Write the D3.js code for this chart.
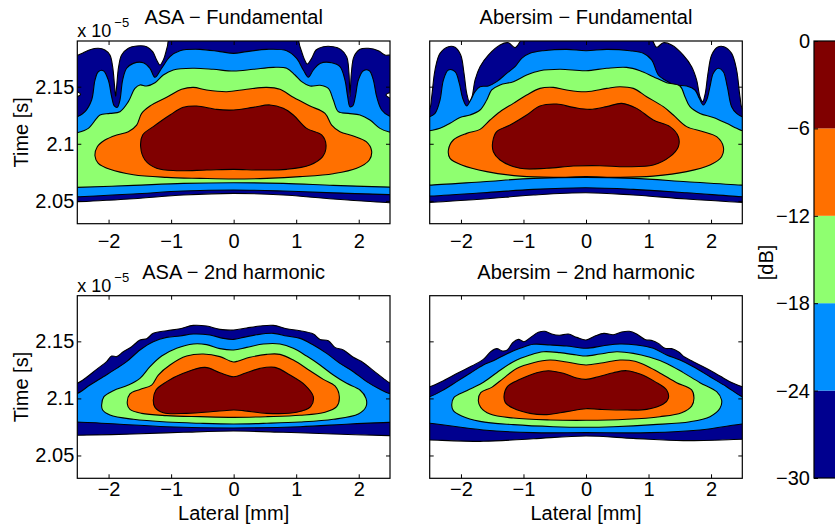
<!DOCTYPE html>
<html><head><meta charset="utf-8">
<script src="https://cdn.jsdelivr.net/npm/d3@7"></script>
<style>body{margin:0;background:#fff}svg{display:block}</style>
</head><body>
<svg id="chart" width="835" height="527"></svg>
<script>
// ---------------- data ----------------
const lateralTicks = [-2, -1, 0, 1, 2];
const timeTicks = [2.05, 2.1, 2.15];
const timeTickLabels = ["2.05", "2.1", "2.15"];
const lateralDomain = [-2.5, 2.5];
const timeDomain = [2.03, 2.19];           // x 10^-5 s
const levels = [-30, -24, -18, -12, -6, 0]; // dB
const levelColors = ["#00008f", "#008fff", "#8fff70", "#ff7000", "#800000"];
const panelTitles = ["ASA \u2212 Fundamental", "Abersim \u2212 Fundamental", "ASA \u2212 2nd harmonic", "Abersim \u2212 2nd harmonic"];

// contour regions [lateral mm, time x1e-5 s], one per level (>= -30, -24, -18, -12, -6 dB)
const asaFund30 = [[-2.564,2.1769],[-2.5,2.1774],[-2.404,2.1798],[-2.297,2.1824],[-2.164,2.1836],[-2.058,2.1821],[-1.978,2.1777],[-1.935,2.1675],[-1.903,2.15],[-1.887,2.1412],[-1.871,2.15],[-1.839,2.1675],[-1.791,2.1777],[-1.684,2.1836],[-1.551,2.1856],[-1.391,2.185],[-1.295,2.1807],[-1.231,2.1734],[-1.178,2.169],[-1.114,2.1748],[-1.061,2.185],[-1.018,2.1923],[0,2.1967],[1.007,2.1923],[1.061,2.185],[1.125,2.1748],[1.178,2.1699],[1.247,2.1748],[1.317,2.1821],[1.434,2.185],[1.594,2.185],[1.711,2.1827],[1.807,2.1763],[1.844,2.1617],[1.86,2.1412],[1.882,2.1617],[1.924,2.1763],[2.02,2.1827],[2.154,2.1836],[2.314,2.1815],[2.42,2.1777],[2.553,2.1769],[2.553,2.1471],[2.436,2.1427],[2.553,2.1369],[2.553,2.0484],[2.489,2.0484],[1.594,2.0516],[0.794,2.0551],[0,2.0566],[-0.805,2.0551],[-1.604,2.0519],[-2.5,2.0493],[-2.564,2.0493],[-2.564,2.1383],[-2.447,2.1433],[-2.564,2.1485]];
const asaFund24 = [[-2.564,2.1237],[-2.5,2.1237],[-2.377,2.1281],[-2.271,2.1383],[-2.217,2.1558],[-2.164,2.1631],[-2.084,2.164],[-2.004,2.1558],[-1.951,2.1412],[-1.908,2.1331],[-1.86,2.1319],[-1.818,2.1383],[-1.775,2.1558],[-1.711,2.1661],[-1.604,2.1704],[-1.445,2.171],[-1.338,2.1661],[-1.258,2.1582],[-1.151,2.1661],[-1.018,2.1763],[-0.858,2.1815],[-0.538,2.1827],[-0.219,2.1807],[0,2.1792],[0.208,2.1807],[0.528,2.1827],[0.848,2.1815],[1.007,2.1748],[1.114,2.1646],[1.194,2.1582],[1.274,2.1646],[1.381,2.1704],[1.567,2.171],[1.7,2.1675],[1.78,2.1558],[1.823,2.1412],[1.86,2.1325],[1.903,2.1331],[1.946,2.1412],[1.994,2.1558],[2.074,2.164],[2.17,2.164],[2.234,2.1558],[2.287,2.1412],[2.367,2.1296],[2.489,2.1243],[2.553,2.1237],[2.553,2.0555],[2.489,2.0555],[1.594,2.057],[0.794,2.0586],[0,2.0595],[-0.805,2.0586],[-1.604,2.056],[-2.5,2.0536],[-2.564,2.0536]];
const asaFund18 = [[-2.564,2.1091],[-2.5,2.1097],[-2.324,2.1135],[-2.191,2.1223],[-2.137,2.1252],[-1.978,2.1266],[-1.818,2.1281],[-1.684,2.1369],[-1.578,2.1485],[-1.498,2.1515],[-1.391,2.1506],[-1.258,2.1535],[-1.125,2.1602],[-0.965,2.1646],[-0.645,2.1661],[-0.325,2.1652],[0,2.1637],[0.314,2.1652],[0.634,2.1669],[0.848,2.1661],[0.981,2.1602],[1.087,2.1544],[1.221,2.1506],[1.381,2.1512],[1.514,2.1485],[1.594,2.1383],[1.674,2.1281],[1.834,2.1266],[2.02,2.1252],[2.18,2.1208],[2.34,2.1135],[2.489,2.1103],[2.553,2.1097],[2.553,2.062],[2.489,2.062],[1.594,2.0636],[0.794,2.0653],[0,2.0659],[-0.805,2.0653],[-1.604,2.0636],[-2.5,2.0618],[-2.564,2.0618]];
const asaFund12 = [[-2.217,2.0893],[-2.18,2.0974],[-2.058,2.1033],[-1.871,2.1077],[-1.684,2.1106],[-1.551,2.1164],[-1.471,2.1266],[-1.338,2.1331],[-1.071,2.1407],[-0.832,2.1477],[-0.645,2.1494],[-0.432,2.1471],[-0.112,2.1456],[0.208,2.1477],[0.528,2.1494],[0.741,2.1477],[0.954,2.1407],[1.221,2.1331],[1.461,2.1266],[1.567,2.1164],[1.7,2.1106],[1.914,2.1068],[2.12,2.1018],[2.205,2.094],[2.17,2.0858],[1.967,2.0785],[1.594,2.0738],[1.061,2.0712],[0.528,2.0697],[0,2.0691],[-0.538,2.0697],[-1.071,2.0706],[-1.604,2.0729],[-1.978,2.0776],[-2.164,2.0828]];
const asaFund6 = [[-1.487,2.0974],[-1.455,2.1077],[-1.285,2.115],[-1.018,2.1252],[-0.805,2.1319],[-0.592,2.1331],[-0.272,2.1301],[0,2.1296],[0.314,2.1319],[0.581,2.134],[0.794,2.131],[0.954,2.1252],[1.167,2.1135],[1.407,2.1077],[1.477,2.0989],[1.423,2.0887],[1.221,2.0814],[0.848,2.0776],[0.421,2.077],[0,2.0776],[-0.432,2.077],[-0.912,2.0764],[-1.231,2.0785],[-1.418,2.0858]];

const aberFund30 = [[-2.564,2.1296],[-2.5,2.131],[-2.468,2.1412],[-2.415,2.1646],[-2.335,2.1792],[-2.201,2.185],[-2.095,2.1845],[-2.004,2.1777],[-1.951,2.1617],[-1.908,2.1442],[-1.866,2.1369],[-1.823,2.1412],[-1.775,2.1558],[-1.695,2.1675],[-1.562,2.1777],[-1.375,2.1865],[-1.242,2.1885],[-1.135,2.1842],[-1.045,2.1903],[-1.002,2.1938],[0,2.1967],[1.023,2.1938],[1.066,2.1903],[1.13,2.1845],[1.237,2.1885],[1.37,2.1865],[1.556,2.1777],[1.69,2.1675],[1.77,2.1558],[1.823,2.1412],[1.866,2.1369],[1.908,2.1442],[1.951,2.1617],[2.01,2.1777],[2.1,2.1845],[2.207,2.185],[2.329,2.1792],[2.409,2.1646],[2.463,2.1412],[2.5,2.131],[2.569,2.1296],[2.569,2.0487],[2.5,2.0487],[1.61,2.0516],[0.757,2.0551],[0,2.0571],[-0.842,2.0551],[-1.642,2.0516],[-2.5,2.0487],[-2.564,2.0487]];
const aberFund24 = [[-2.564,2.1231],[-2.5,2.1237],[-2.415,2.1266],[-2.335,2.1383],[-2.281,2.1558],[-2.201,2.1646],[-2.095,2.1631],[-2.026,2.1529],[-1.972,2.1398],[-1.908,2.1331],[-1.844,2.1383],[-1.775,2.1456],[-1.695,2.15],[-1.562,2.1506],[-1.428,2.1544],[-1.269,2.1617],[-1.135,2.1675],[-1.029,2.1748],[-0.896,2.1792],[-0.682,2.1815],[-0.309,2.1827],[0,2.1815],[0.33,2.1827],[0.704,2.1815],[0.917,2.1792],[1.05,2.1734],[1.157,2.1602],[1.263,2.1558],[1.423,2.1515],[1.61,2.1506],[1.743,2.1471],[1.812,2.1398],[1.876,2.1339],[1.93,2.1383],[1.983,2.15],[2.036,2.1617],[2.116,2.1661],[2.196,2.1631],[2.26,2.15],[2.329,2.1325],[2.409,2.1266],[2.5,2.1237],[2.569,2.1234],[2.569,2.0536],[2.5,2.0536],[1.61,2.0571],[0.757,2.0601],[0,2.0615],[-0.842,2.0601],[-1.642,2.0571],[-2.5,2.0542],[-2.564,2.0542]];
const aberFund18 = [[-2.564,2.1106],[-2.5,2.1114],[-2.335,2.1135],[-2.175,2.1179],[-2.015,2.1231],[-1.855,2.1252],[-1.695,2.1296],[-1.588,2.1383],[-1.508,2.1471],[-1.375,2.1515],[-1.162,2.1544],[-0.949,2.1602],[-0.736,2.164],[-0.416,2.1652],[0,2.164],[0.33,2.1661],[0.65,2.1669],[0.864,2.164],[1.077,2.1588],[1.29,2.1535],[1.503,2.1506],[1.583,2.1412],[1.663,2.1325],[1.823,2.1266],[2.036,2.1231],[2.249,2.1179],[2.409,2.1135],[2.5,2.1114],[2.569,2.1111],[2.569,2.0638],[2.5,2.0638],[1.61,2.0668],[0.757,2.0697],[0,2.0706],[-0.842,2.0697],[-1.642,2.0668],[-2.5,2.0638],[-2.564,2.0638]];
const aberFund12 = [[-2.201,2.0945],[-2.122,2.1033],[-1.908,2.1091],[-1.695,2.1126],[-1.535,2.1208],[-1.375,2.1281],[-1.162,2.1354],[-0.949,2.1427],[-0.736,2.1485],[-0.522,2.1494],[-0.309,2.1471],[0,2.1456],[0.33,2.1485],[0.544,2.15],[0.757,2.1485],[0.97,2.1412],[1.237,2.1325],[1.397,2.1252],[1.61,2.115],[1.876,2.1106],[2.09,2.1062],[2.196,2.0974],[2.169,2.0887],[1.983,2.0814],[1.61,2.0756],[1.077,2.0717],[0.544,2.0706],[0,2.0712],[-0.522,2.0706],[-1.055,2.0717],[-1.588,2.0756],[-1.988,2.0814],[-2.175,2.0872]];
const aberFund6 = [[-1.492,2.1018],[-1.428,2.1106],[-1.215,2.1164],[-0.949,2.1252],[-0.736,2.1331],[-0.469,2.1348],[-0.203,2.1319],[0.064,2.1301],[0.33,2.1325],[0.57,2.1354],[0.81,2.131],[1.077,2.1208],[1.343,2.115],[1.477,2.1062],[1.477,2.0974],[1.343,2.0887],[1.077,2.0814],[0.65,2.0799],[0.224,2.0808],[-0.203,2.0805],[-0.629,2.0785],[-1.055,2.0785],[-1.375,2.0858],[-1.482,2.093]];

const asaHarm30 = [[-2.564,2.1126],[-2.5,2.1132],[-2.351,2.1185],[-2.191,2.1255],[-2.031,2.1322],[-1.951,2.1371],[-1.871,2.1366],[-1.764,2.1409],[-1.631,2.1453],[-1.498,2.1512],[-1.391,2.1523],[-1.285,2.157],[-1.071,2.1593],[-0.858,2.1611],[-0.645,2.164],[-0.432,2.1634],[-0.219,2.1605],[0,2.1599],[0.208,2.1617],[0.421,2.1634],[0.634,2.164],[0.848,2.1611],[1.061,2.1593],[1.274,2.1564],[1.381,2.1517],[1.514,2.1506],[1.62,2.1447],[1.754,2.1424],[1.914,2.136],[2.074,2.1313],[2.234,2.1243],[2.393,2.1176],[2.489,2.1138],[2.553,2.1132],[2.553,2.0674],[2.489,2.0674],[1.594,2.0688],[0.794,2.0703],[0,2.0714],[-0.805,2.0703],[-1.604,2.0688],[-2.5,2.0677],[-2.564,2.0677]];
const asaHarm24 = [[-2.564,2.1041],[-2.5,2.1044],[-2.297,2.1117],[-2.084,2.119],[-1.871,2.1263],[-1.711,2.1322],[-1.498,2.1424],[-1.285,2.1497],[-1.071,2.1535],[-0.858,2.1547],[-0.645,2.1564],[-0.378,2.1555],[-0.165,2.1526],[0,2.1517],[0.155,2.1535],[0.368,2.1558],[0.634,2.157],[0.848,2.1547],[1.061,2.1526],[1.274,2.1468],[1.487,2.1395],[1.7,2.1307],[1.914,2.1234],[2.127,2.1147],[2.34,2.108],[2.489,2.1044],[2.553,2.1041],[2.553,2.079],[2.489,2.079],[1.86,2.0776],[1.061,2.0752],[0,2.0741],[-1.071,2.0752],[-1.871,2.0776],[-2.5,2.0793],[-2.564,2.0793]];
const asaHarm18 = [[-2.111,2.0942],[-2.074,2.1015],[-1.924,2.1068],[-1.684,2.1117],[-1.498,2.1176],[-1.338,2.1278],[-1.151,2.1371],[-0.912,2.1439],[-0.645,2.1477],[-0.432,2.1471],[-0.219,2.1436],[0,2.1424],[0.208,2.1447],[0.474,2.1477],[0.741,2.1477],[0.954,2.1439],[1.167,2.1371],[1.381,2.1293],[1.594,2.1205],[1.807,2.1132],[2.02,2.1074],[2.116,2.1001],[2.116,2.0928],[1.994,2.0863],[1.594,2.0817],[1.061,2.0793],[0.528,2.0782],[0,2.0776],[-0.538,2.0782],[-1.071,2.0793],[-1.604,2.0817],[-1.978,2.0855],[-2.095,2.0898]];
const asaHarm12 = [[-1.7,2.0951],[-1.658,2.1039],[-1.498,2.1079],[-1.311,2.1117],[-1.205,2.1205],[-1.018,2.1293],[-0.752,2.1371],[-0.485,2.1389],[-0.219,2.1366],[-0.059,2.1328],[0,2.1319],[0.075,2.1328],[0.261,2.136],[0.528,2.1386],[0.741,2.1386],[0.954,2.1336],[1.221,2.1243],[1.434,2.1167],[1.62,2.1109],[1.69,2.1015],[1.647,2.0928],[1.461,2.0879],[1.061,2.0852],[0.528,2.084],[0,2.0834],[-0.538,2.084],[-1.071,2.0849],[-1.471,2.0869],[-1.658,2.0904]];
const asaHarm6 = [[-1.285,2.0986],[-1.242,2.1074],[-1.071,2.1147],[-0.805,2.122],[-0.458,2.1272],[-0.219,2.1225],[0,2.119],[0.181,2.122],[0.421,2.1263],[0.661,2.1272],[0.901,2.1205],[1.141,2.1117],[1.274,2.1015],[1.231,2.0928],[1.007,2.0878],[0.528,2.0869],[0.155,2.0893],[0,2.0898],[-0.272,2.0887],[-0.752,2.0869],[-1.125,2.0875],[-1.258,2.0922]];

const aberHarm30 = [[-2.564,2.1097],[-2.5,2.1103],[-2.281,2.1155],[-2.042,2.1225],[-1.828,2.1284],[-1.642,2.1342],[-1.525,2.1409],[-1.428,2.1436],[-1.333,2.1415],[-1.258,2.1424],[-1.173,2.1488],[-1.082,2.1517],[-0.991,2.1497],[-0.885,2.1535],[-0.762,2.1579],[-0.656,2.1588],[-0.549,2.1564],[-0.426,2.1553],[-0.283,2.1564],[-0.149,2.1535],[0,2.1512],[0.144,2.1547],[0.288,2.157],[0.437,2.1558],[0.57,2.1582],[0.693,2.1588],[0.81,2.1564],[0.944,2.1517],[1.066,2.1506],[1.157,2.1482],[1.263,2.1439],[1.37,2.1436],[1.477,2.1409],[1.583,2.136],[1.716,2.1322],[1.93,2.1263],[2.143,2.1196],[2.356,2.1132],[2.5,2.1103],[2.569,2.1097],[2.569,2.0642],[2.5,2.0642],[1.556,2.063],[0.757,2.065],[0,2.0671],[-0.842,2.0647],[-1.642,2.0624],[-2.5,2.0636],[-2.564,2.0636]];
const aberHarm24 = [[-2.564,2.1012],[-2.5,2.1015],[-2.281,2.1074],[-2.068,2.1147],[-1.855,2.122],[-1.642,2.1293],[-1.482,2.1331],[-1.269,2.139],[-1.055,2.1439],[-0.842,2.1474],[-0.576,2.1468],[-0.309,2.1459],[0,2.1439],[0.277,2.1462],[0.544,2.1477],[0.81,2.1468],[1.077,2.1439],[1.29,2.138],[1.503,2.1336],[1.716,2.1278],[1.983,2.119],[2.249,2.1103],[2.5,2.1015],[2.569,2.1012],[2.569,2.0776],[2.5,2.0776],[1.823,2.0723],[1.023,2.07],[0,2.07],[-0.842,2.07],[-1.642,2.0723],[-2.5,2.0782],[-2.564,2.0782]];
const aberHarm18 = [[-2.148,2.0942],[-2.111,2.1009],[-1.908,2.1068],[-1.668,2.1132],[-1.428,2.1225],[-1.162,2.1322],[-0.896,2.138],[-0.682,2.1409],[-0.416,2.1401],[-0.149,2.138],[0,2.1371],[0.224,2.1389],[0.49,2.1409],[0.757,2.1395],[1.023,2.136],[1.29,2.1307],[1.556,2.1226],[1.823,2.1138],[2.09,2.1059],[2.169,2.0986],[2.143,2.0913],[1.983,2.084],[1.663,2.0796],[1.077,2.077],[0.437,2.0752],[0,2.0747],[-0.522,2.0752],[-1.162,2.077],[-1.695,2.0799],[-1.988,2.0846],[-2.122,2.0893]];
const aberHarm12 = [[-1.722,2.098],[-1.684,2.105],[-1.508,2.1097],[-1.322,2.1176],[-1.109,2.1263],[-0.842,2.1313],[-0.576,2.1336],[-0.309,2.1319],[0,2.1293],[0.277,2.1313],[0.544,2.1336],[0.784,2.1325],[0.997,2.1278],[1.21,2.1214],[1.45,2.1138],[1.69,2.1074],[1.727,2.1001],[1.69,2.0933],[1.53,2.0875],[1.183,2.084],[0.65,2.0817],[0,2.0808],[-0.576,2.0811],[-1.162,2.0828],[-1.535,2.0863],[-1.684,2.0922]];
const aberHarm6 = [[-1.311,2.1021],[-1.258,2.1103],[-1.055,2.1167],[-0.789,2.1225],[-0.602,2.1243],[-0.362,2.122],[-0.149,2.1179],[0,2.1167],[0.197,2.119],[0.437,2.1225],[0.65,2.1243],[0.864,2.1214],[1.103,2.1147],[1.29,2.1074],[1.317,2.1001],[1.237,2.0951],[0.97,2.0904],[0.65,2.0898],[0.224,2.0904],[0,2.091],[-0.309,2.0884],[-0.629,2.0858],[-0.896,2.0869],[-1.162,2.0913],[-1.29,2.0963]];

const panelRings = [
  [asaFund30, asaFund24, asaFund18, asaFund12, asaFund6],
  [aberFund30, aberFund24, aberFund18, aberFund12, aberFund6],
  [asaHarm30, asaHarm24, asaHarm18, asaHarm12, asaHarm6],
  [aberHarm30, aberHarm24, aberHarm18, aberHarm12, aberHarm6]
];

// ---------------- layout ----------------
const FONT = "'Liberation Sans', Arial, Helvetica, sans-serif";
const layout = [
  {x0: 77.3, x1: 390, y0: 41, y1: 223.7, yLabels: true, xTitle: false},
  {x0: 429.7, x1: 742.3, y0: 41, y1: 223.7, yLabels: false, xTitle: false},
  {x0: 77.3, x1: 390, y0: 295.7, y1: 478.3, yLabels: true, xTitle: true},
  {x0: 429.7, x1: 742.3, y0: 295.7, y1: 478.3, yLabels: false, xTitle: true}
];
const fmtX = d => d < 0 ? "\u2212" + Math.abs(d) : String(d);
const fmtC = d => d < 0 ? "\u2212" + Math.abs(d) : String(d);

const svg = d3.select("#chart");
svg.append("rect").attr("width", 835).attr("height", 527).attr("fill", "#fff");

layout.forEach((p, i) => {
  const x = d3.scaleLinear().domain(lateralDomain).range([p.x0, p.x1]);
  const y = d3.scaleLinear().domain(timeDomain).range([p.y1, p.y0]);
  const cid = "clip" + i;
  svg.append("clipPath").attr("id", cid).append("rect")
    .attr("x", p.x0).attr("y", p.y0).attr("width", p.x1 - p.x0).attr("height", p.y1 - p.y0);
  const g = svg.append("g").attr("clip-path", `url(#${cid})`);
  const line = d3.line().x(d => x(d[0])).y(d => y(d[1])).curve(d3.curveCatmullRomClosed.alpha(0.5));
  panelRings[i].forEach((ring, k) => {
    g.append("path").attr("d", line(ring))
      .attr("fill", levelColors[k]).attr("stroke", "#000").attr("stroke-width", 1.1)
      .attr("stroke-linejoin", "round");
  });

  const styleAxis = sel => {
    sel.select(".domain").remove();
    sel.selectAll("line").attr("stroke", "#000").attr("stroke-width", 1);
    sel.selectAll("text").attr("font-family", FONT).attr("font-size", 20).attr("fill", "#000");
  };
  svg.append("g").attr("transform", `translate(0,${p.y1})`)
    .call(d3.axisBottom(x).tickValues(lateralTicks).tickSize(-4).tickPadding(p.xTitle ? 4 : 10).tickFormat(fmtX))
    .call(styleAxis);
  svg.append("g").attr("transform", `translate(0,${p.y0})`)
    .call(d3.axisTop(x).tickValues(lateralTicks).tickSize(-4).tickFormat(""))
    .call(styleAxis);
  svg.append("g").attr("transform", `translate(${p.x0},0)`)
    .call(d3.axisLeft(y).tickValues(timeTicks).tickSize(-4).tickPadding(3)
      .tickFormat((d, j) => p.yLabels ? timeTickLabels[j] : ""))
    .call(styleAxis);
  svg.append("g").attr("transform", `translate(${p.x1},0)`)
    .call(d3.axisRight(y).tickValues(timeTicks).tickSize(-4).tickFormat(""))
    .call(styleAxis);

  svg.append("rect").attr("x", p.x0).attr("y", p.y0)
    .attr("width", p.x1 - p.x0).attr("height", p.y1 - p.y0)
    .attr("fill", "none").attr("stroke", "#000").attr("stroke-width", 1.2);

  svg.append("text").attr("x", (p.x0 + p.x1) / 2).attr("y", p.y0 - 17)
    .attr("text-anchor", "middle").attr("font-family", FONT).attr("font-size", 20)
    .text(panelTitles[i]);

  if (p.yLabels) {
    const ex = svg.append("text").attr("font-family", FONT).attr("font-size", 18)
      .attr("x", p.x0).attr("y", p.y0 - 4);
    ex.append("tspan").text("x");
    ex.append("tspan").attr("x", p.x0 + 14).text("10");
    ex.append("tspan").attr("font-size", 13).attr("dy", -10).attr("x", p.x0 + 37).text("\u22125");
    svg.append("text")
      .attr("transform", `translate(28,${(p.y0 + p.y1) / 2}) rotate(-90)`)
      .attr("text-anchor", "middle").attr("font-family", FONT).attr("font-size", 20)
      .text("Time [s]");
  }
  if (p.xTitle) {
    svg.append("text").attr("x", (p.x0 + p.x1) / 2).attr("y", 519.5)
      .attr("text-anchor", "middle").attr("font-family", FONT).attr("font-size", 20)
      .text("Lateral [mm]");
  }
});

// ---------------- colorbar ----------------
const cb = {x0: 814, w: 40, y0: 41, y1: 478};
const yc = d3.scaleLinear().domain([levels[0], levels[levels.length - 1]]).range([cb.y1, cb.y0]);
const cbg = svg.append("g");
levelColors.forEach((c, k) => {
  cbg.append("rect").attr("x", cb.x0).attr("width", cb.w)
    .attr("y", yc(levels[k + 1])).attr("height", yc(levels[k]) - yc(levels[k + 1]))
    .attr("fill", c);
});
svg.append("g").attr("transform", `translate(${cb.x0},0)`)
  .call(d3.axisLeft(yc).tickValues(levels).tickSize(-4).tickPadding(4).tickFormat(fmtC))
  .call(sel => {
    sel.select(".domain").remove();
    sel.selectAll("line").attr("stroke", "#000");
    sel.selectAll("text").attr("font-family", FONT).attr("font-size", 20).attr("fill", "#000");
  });
svg.append("rect").attr("x", cb.x0).attr("y", cb.y0).attr("width", cb.w).attr("height", cb.y1 - cb.y0)
  .attr("fill", "none").attr("stroke", "#000").attr("stroke-width", 1.2);
svg.append("text")
  .attr("transform", `translate(773,${(cb.y0 + cb.y1) / 2 + 3}) rotate(-90)`)
  .attr("text-anchor", "middle").attr("font-family", FONT).attr("font-size", 20)
  .text("[dB]");
</script>
</body></html>
